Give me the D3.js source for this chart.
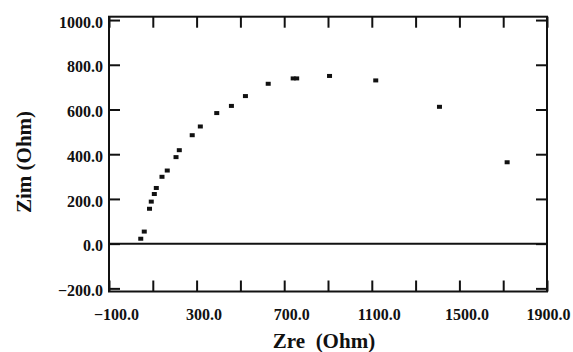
<!DOCTYPE html>
<html>
<head>
<meta charset="utf-8">
<script src="https://cdn.jsdelivr.net/npm/d3@7"></script>
<style>
  body { margin: 0; background: #fff; }
  svg { display: block; }
  .title { font-family: "Liberation Serif", "Times New Roman", serif; font-weight: bold; font-size: 21px; fill: #111; white-space: pre; }
</style>
</head>
<body>
<div id="chart"></div>
<script>
// Nyquist data
const ZRE = [45, 61, 85, 93, 107, 116, 142, 166, 206, 221, 280, 317, 392, 459, 523, 627, 741, 757, 907, 1118, 1409, 1718];
const ZIM = [22, 54, 156, 188, 222, 249, 299, 327, 387, 418, 485, 524, 584, 616, 660, 715, 739, 739, 750, 730, 612, 364];

const X_TICKS = [-100, 100, 300, 500, 700, 900, 1100, 1300, 1500, 1700, 1900];
const X_LABELED = [-100, 300, 700, 1100, 1500, 1900];
const Y_TICKS = [-200, 0, 200, 400, 600, 800, 1000];

const X_TITLE = 'Zre  (Ohm)';
const Y_TITLE = 'Zim (Ohm)';

const WIDTH = 573;
const HEIGHT = 352;
const TICK_LEN = 11;
const SERIF = '"Liberation Serif", "Times New Roman", serif';

document.addEventListener('DOMContentLoaded', function() {
  drawChart();
});

function styleLabels(sel)
{
  sel.style('font-family', SERIF)
    .style('font-weight', 'bold')
    .style('font-size', '16px')
    .style('fill', '#111');
}

function drawChart()
{
  var svg = d3.select('#chart').append('svg')
    .attr('width', WIDTH)
    .attr('height', HEIGHT);

  var x = d3.scaleLinear().domain([-100, 1900]).range([109, 547]);
  var y = d3.scaleLinear().domain([-214, 1015]).range([291.5, 16.7]);

  var fmt = d3.format('.1f');

  // bottom axis (ticks pointing in)
  var bottom = svg.append('g')
    .attr('transform', 'translate(0,' + y.range()[0] + ')')
    .call(d3.axisBottom(x).tickValues(X_TICKS).tickSizeInner(-TICK_LEN).tickSizeOuter(0).tickPadding(TICK_LEN + 6)
      .tickFormat(function(d) { return X_LABELED.indexOf(d) >= 0 ? fmt(d) : ''; }));
  bottom.selectAll('text')
    .attr('dx', function(d) { return d == 1900 ? 1 : 7; })
    .call(styleLabels);

  svg.append('g')
    .attr('transform', 'translate(0,' + y.range()[1] + ')')
    .call(d3.axisTop(x).tickValues(X_TICKS).tickSizeInner(-TICK_LEN).tickSizeOuter(0).tickFormat(''));

  svg.append('g')
    .attr('transform', 'translate(' + x.range()[0] + ',0)')
    .call(d3.axisLeft(y).tickValues(Y_TICKS).tickSizeInner(-TICK_LEN).tickSizeOuter(0).tickPadding(6)
      .tickFormat(fmt))
    .selectAll('text').attr('dy', '0.45em')
    .call(styleLabels);

  svg.append('g')
    .attr('transform', 'translate(' + x.range()[1] + ',0)')
    .call(d3.axisRight(y).tickValues(Y_TICKS).tickSizeInner(-TICK_LEN).tickSizeOuter(0).tickFormat(''));

  svg.selectAll('.domain').remove();
  svg.selectAll('.tick line').style('stroke', '#111').style('stroke-width', 2);

  // frame
  svg.append('rect')
    .attr('x', x.range()[0])
    .attr('y', y.range()[1])
    .attr('width', x.range()[1] - x.range()[0])
    .attr('height', y.range()[0] - y.range()[1])
    .style('fill', 'none')
    .style('stroke', '#111')
    .style('stroke-width', 2);

  // zero line
  svg.append('line')
    .attr('x1', x.range()[0])
    .attr('x2', x.range()[1])
    .attr('y1', y(0))
    .attr('y2', y(0))
    .style('stroke', '#111')
    .style('stroke-width', 2);

  var data = ZRE.map(function(d, i) { return { re: d, im: ZIM[i] }; });

  svg.selectAll('rect.pt')
    .data(data)
    .enter()
    .append('rect')
    .attr('class', 'pt')
    .attr('x', function(d) { return x(d.re) - 2.5; })
    .attr('y', function(d) { return y(d.im) - 2; })
    .attr('width', 5)
    .attr('height', 4)
    .style('fill', '#111');

  svg.append('text')
    .attr('class', 'title')
    .attr('x', (x.range()[0] + x.range()[1]) / 2 - 4)
    .attr('y', 348)
    .attr('text-anchor', 'middle')
    .text(X_TITLE);

  svg.append('text')
    .attr('class', 'title')
    .attr('transform', 'translate(31,162) rotate(-90)')
    .attr('text-anchor', 'middle')
    .text(Y_TITLE);
}
</script>
</body>
</html>
